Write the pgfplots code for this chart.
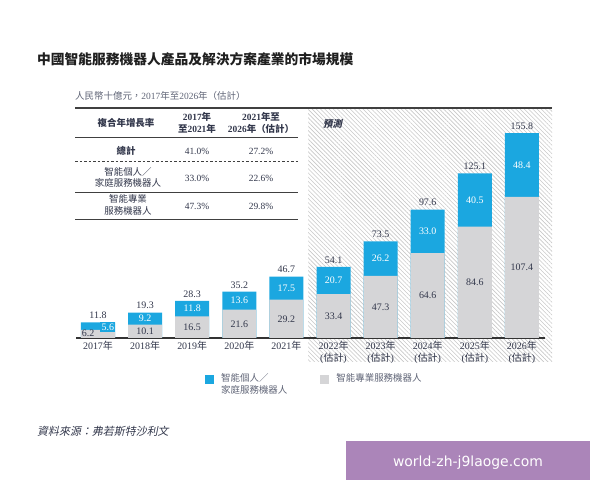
\documentclass[border=0pt]{standalone}
\usepackage{pgfplots}
\pgfplotsset{compat=1.18}
\usetikzlibrary{patterns.meta}
\usepackage{fontspec}
\setmainfont{Liberation Serif}
\newfontfamily\cjk{Noto Sans CJK TC}
\newfontfamily\cjkit[FakeSlant=0.2]{Noto Sans CJK TC}
\newfontfamily\wm{DejaVu Sans}
\definecolor{cblue}{RGB}{27,167,224}
\definecolor{cgray}{RGB}{213,213,215}
\definecolor{ctext}{RGB}{50,55,75}
\definecolor{clite}{RGB}{95,100,118}
\definecolor{hatchc}{RGB}{200,200,200}
\definecolor{wmc}{RGB}{171,133,185}
\newcommand{\fs}[2]{\fontsize{#1}{#2}\selectfont}
\newcommand{\nian}{{\cjk 年}}
\begin{document}
\begin{tikzpicture}
\begin{scope}[x=1bp,y=1bp]
\path[use as bounding box] (0,0) rectangle (600,480);
% forecast hatch
\fill[pattern={Lines[angle=-45,distance=3bp,line width=0.6bp]},pattern color=hatchc] (308,118) rectangle (552,372);
% title and subtitle
\node[anchor=west,inner sep=0,font=\cjk\bfseries\fs{13.8}{16},text=black!88] at (37,421) {中國智能服務機器人產品及解決方案產業的市場規模};
\node[anchor=west,inner sep=0,font=\fs{9.5}{12},text=clite] at (75,384) {{\cjk 人民幣十億元，}2017{\cjk 年至}2026{\cjk 年（估計）}};
% table rules
\draw[line width=1.3bp,black!75] (75,372) -- (552,372);
\draw[line width=0.9bp,black!75] (75,343) -- (298,343);
\draw[line width=0.9bp,black!75,dash pattern=on 2.5bp off 2bp] (75,319) -- (298,319);
\draw[line width=0.9bp,black!75] (75,288) -- (298,288);
\draw[line width=0.9bp,black!75] (75,261) -- (298,261);
% table text
\node[font=\cjk\bfseries\fs{9.5}{12},text=ctext] at (126,357) {複合年增長率};
\node[font=\bfseries\fs{9.5}{12},align=center,text=ctext] at (197,357) {2017{\cjk\bfseries 年}\\{\cjk\bfseries 至}2021{\cjk\bfseries 年}};
\node[font=\bfseries\fs{9.5}{12},align=center,text=ctext] at (261,357) {2021{\cjk\bfseries 年至}\\2026{\cjk\bfseries 年（估計）}};
\node[font=\cjk\bfseries\fs{9.5}{12},text=ctext] at (126,329) {總計};
\node[font=\fs{9.5}{12},text=ctext] at (197,329) {41.0\%};
\node[font=\fs{9.5}{12},text=ctext] at (261,329) {27.2\%};
\node[font=\cjk\fs{9.5}{11.5},align=center,text=ctext] at (128,302.5) {智能個人／\\家庭服務機器人};
\node[font=\fs{9.5}{12},text=ctext] at (197,302) {33.0\%};
\node[font=\fs{9.5}{12},text=ctext] at (261,302) {22.6\%};
\node[font=\cjk\fs{9.5}{12},align=center,text=ctext] at (128,275) {智能專業\\服務機器人};
\node[font=\fs{9.5}{12},text=ctext] at (197,274) {47.3\%};
\node[font=\fs{9.5}{12},text=ctext] at (261,274) {29.8\%};
\node[anchor=west,inner sep=0,font=\cjkit\bfseries\fs{9.5}{12},text=ctext] at (323,356) {預測};
\end{scope}
\begin{axis}[
  at={(76bp,142bp)}, anchor=south west,
  width=469bp, height=230bp, scale only axis,
  xmin=-0.467, xmax=9.49, ymin=0, ymax=174.9,
  axis x line*=bottom, axis y line=none,
  x axis line style={-, line width=1.1bp, black!80},
  xtick={0,...,9}, major tick length=0,
  xticklabels={{2017\nian},{2018\nian},{2019\nian},{2020\nian},{2021\nian},
    {2022\nian\\({\cjk 估計})},{2023\nian\\({\cjk 估計})},{2024\nian\\({\cjk 估計})},{2025\nian\\({\cjk 估計})},{2026\nian\\({\cjk 估計})}},
  xticklabel style={align=center,font=\fs{10}{12},text=ctext},
  clip=false,
  legend columns=2,
  legend style={at={(0.275,-0.145)},anchor=north west,draw=none,fill=none,inner sep=0pt,
    font=\cjk\fs{9.5}{12},text=clite,cells={align=left,anchor=west},
    /tikz/every odd column/.append style={column sep=5bp},
    /tikz/every even column/.append style={column sep=31bp}},
]
\addplot[ybar,bar width=34bp,bar shift=0pt,fill=cblue,draw=none,
  legend image code/.code={\fill[cblue] (0bp,0.5bp) rectangle (9bp,9.5bp);},
  nodes near coords,point meta=explicit symbolic,
  every node near coord/.append style={font=\fs{10}{12},text=ctext}]
  coordinates {(0,11.8)[11.8] (1,19.3)[19.3] (2,28.3)[28.3] (3,35.2)[35.2] (4,46.7)[46.7]
               (5,54.1)[54.1] (6,73.5)[73.5] (7,97.6)[97.6] (8,125.1)[125.1] (9,155.8)[155.8]};
\addlegendentry{智能個人／\\家庭服務機器人}
\addplot[ybar,bar width=34bp,bar shift=0pt,fill=cgray,draw=none,
  legend image code/.code={\fill[cgray] (0bp,0.5bp) rectangle (9bp,9.5bp);}]
  coordinates {(0,6.2) (1,10.1) (2,16.5) (3,21.6) (4,29.2)
               (5,33.4) (6,47.3) (7,64.6) (8,84.6) (9,107.4)};
\addlegendentry{智能專業服務機器人\\\strut}
% segment labels (grey part)
\addplot[draw=none,forget plot,nodes near coords,point meta=explicit symbolic,
  every node near coord/.append style={anchor=center,font=\fs{10}{12},text=ctext}]
  coordinates {(-0.21,3.8)[6.2] (1,5.05)[10.1] (2,8.25)[16.5] (3,10.8)[21.6] (4,14.6)[29.2]
               (5,16.7)[33.4] (6,23.65)[47.3] (7,32.3)[64.6] (8,42.3)[84.6] (9,53.7)[107.4]};
% segment labels (blue part)
\addplot[draw=none,forget plot,nodes near coords,point meta=explicit symbolic,
  every node near coord/.append style={anchor=center,font=\fs{10}{12},text=white}]
  coordinates {(1,14.7)[9.2] (2,22.4)[11.8] (3,28.4)[13.6] (4,37.95)[17.5]
               (5,43.75)[20.7] (6,60.4)[26.2] (7,81.1)[33.0] (8,104.85)[40.5] (9,131.6)[48.4]};
\addplot[draw=none,forget plot,nodes near coords,point meta=explicit symbolic,
  every node near coord/.append style={anchor=center,font=\fs{10}{12},text=white,fill=cblue,inner sep=1.2bp}]
  coordinates {(0.21,8.4)[5.6]};
\end{axis}
\begin{scope}[x=1bp,y=1bp]
% source
\node[anchor=west,inner sep=0,font=\cjkit\fs{11}{13},text=ctext] at (37,49) {資料來源：弗若斯特沙利文};
% watermark
\fill[wmc] (346,0) rectangle (590,38.5);
\node[text=white,font=\wm\fs{14}{16}] at (468,17) {world-zh-j9laoge.com};
\end{scope}
\end{tikzpicture}
\end{document}
